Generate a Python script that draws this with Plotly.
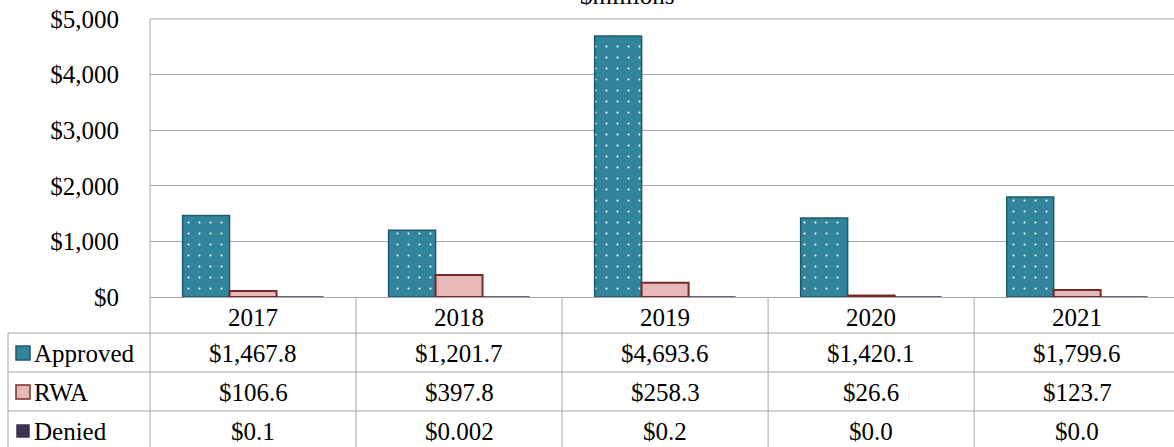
import plotly.graph_objects as go

years = ["2017", "2018", "2019", "2020", "2021"]
approved = [1467.8, 1201.7, 4693.6, 1420.1, 1799.6]
rwa = [106.6, 397.8, 258.3, 26.6, 123.7]
denied = [0.1, 0.002, 0.2, 0.0, 0.0]
denied_decimals = [1, 3, 1, 1, 1]
series_names = ["Approved", "RWA", "Denied"]
y_ticks = [0, 1000, 2000, 3000, 4000, 5000]

C_APP = "#31849B"
C_APP_LINE = "#1D5A6C"
C_RWA = "#E6B9B8"
C_RWA_LINE = "#772C2A"
C_DEN = "#3F3151"
GRID = "#A6A6A6"
FONT = "Liberation Serif"
FS = 25

W, H = 1174, 447
L, T = 150, 19
B = H - 297
R = 0
pw, ph = W - L - R, H - T - B
xmin, xmax = -0.5, 4.47


def px_x(sx):
    return (sx - L) / pw


def px_y(sy):
    return (H - B - sy) / ph


def cat_x(v):
    return (v - xmin) / (xmax - xmin)


def fmt(v, d=1):
    return "${:,.{d}f}".format(v, d=d)


fig = go.Figure()
fig.add_trace(go.Bar(x=years, y=approved, name="Approved",
                     marker=dict(color=C_APP, line=dict(color=C_APP_LINE, width=1.5),
                                 pattern=dict(shape=".", fgcolor="white", bgcolor=C_APP,
                                              size=11, solidity=0.03, fillmode="replace"))))
fig.add_trace(go.Bar(x=years, y=rwa, name="RWA",
                     marker=dict(color=C_RWA, line=dict(color=C_RWA_LINE, width=2))))
fig.add_trace(go.Bar(x=years, y=denied, name="Denied",
                     marker=dict(color=C_DEN, line=dict(color=C_DEN, width=1))))

shapes = []
annos = []
line = dict(color=GRID, width=1)
row_lines = [333, 372, 411]
row_centers = [353, 392, 431]
bottom = H + 20
left_px = 8

for ry in row_lines:
    shapes.append(dict(type="line", xref="paper", yref="paper",
                       x0=px_x(left_px), x1=1.05, y0=px_y(ry), y1=px_y(ry), line=line))
shapes.append(dict(type="line", xref="paper", yref="paper",
                   x0=px_x(left_px), x1=px_x(left_px), y0=px_y(row_lines[0]), y1=px_y(bottom), line=line))
shapes.append(dict(type="line", xref="paper", yref="paper",
                   x0=0, x1=0, y0=1, y1=px_y(bottom), line=line))
for i in range(1, len(years) + 1):
    xv = cat_x(i - 0.5)
    if xv <= 1.0:
        shapes.append(dict(type="line", xref="paper", yref="paper",
                           x0=xv, x1=xv, y0=0, y1=px_y(bottom), line=line))
shapes.append(dict(type="line", xref="paper", yref="paper",
                   x0=0, x1=1.05, y0=1, y1=1, line=line))

rows = [
    [fmt(v) for v in approved],
    [fmt(v) for v in rwa],
    [fmt(v, d) for v, d in zip(denied, denied_decimals)],
]
tfont = dict(family=FONT, size=FS, color="black")
for i, yr in enumerate(years):
    xc = cat_x(i)
    annos.append(dict(xref="paper", yref="paper", x=xc, y=px_y(317), text=yr,
                      showarrow=False, font=tfont, xanchor="center", yanchor="middle"))
    for r, rc in enumerate(row_centers):
        annos.append(dict(xref="paper", yref="paper", x=xc, y=px_y(rc), text=rows[r][i],
                          showarrow=False, font=tfont, xanchor="center", yanchor="middle"))

key_styles = [(C_APP, C_APP_LINE, 14), (C_RWA, C_RWA_LINE, 14), (C_DEN, C_DEN, 12)]
for name, rc, (fc, lc, sz) in zip(series_names, row_centers, key_styles):
    cx = 23
    shapes.append(dict(type="rect", xref="paper", yref="paper",
                       x0=px_x(cx - sz / 2), x1=px_x(cx + sz / 2),
                       y0=px_y(rc + sz / 2), y1=px_y(rc - sz / 2),
                       fillcolor=fc, line=dict(color=lc, width=1.5)))
    annos.append(dict(xref="paper", yref="paper", x=px_x(32), y=px_y(rc), text=name,
                      showarrow=False, font=tfont, xanchor="left", yanchor="middle"))

annos.append(dict(xref="paper", yref="paper", x=px_x(627), y=px_y(-5), text="$millions",
                  showarrow=False, font=tfont, xanchor="center", yanchor="middle"))

fig.update_layout(
    width=W, height=H,
    margin=dict(l=L, r=R, t=T, b=B),
    paper_bgcolor="white", plot_bgcolor="white",
    barmode="group", bargap=0.316, bargroupgap=0,
    showlegend=False,
    shapes=shapes, annotations=annos,
    font=dict(family=FONT, size=FS, color="black"),
)
fig.update_xaxes(range=[xmin, xmax], showticklabels=False, showgrid=False,
                 showline=True, linecolor=GRID, linewidth=1, ticks="")
fig.update_yaxes(range=[0, 5000], tickvals=y_ticks, tickformat="$,",
                 showgrid=True, gridcolor=GRID, gridwidth=1, zeroline=False,
                 showline=False, ticks="", ticklabelstandoff=30,
                 tickfont=dict(family=FONT, size=FS, color="black"))

fig.write_html("out.html", config={"displayModeBar": False},
               post_script="document.body.style.margin='0px';")
